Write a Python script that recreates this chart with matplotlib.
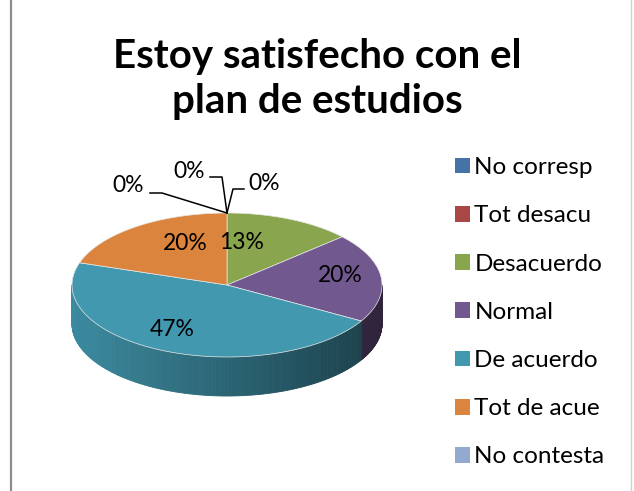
import numpy as np
import matplotlib.pyplot as plt
from matplotlib.patches import Polygon, Patch
from matplotlib.colors import to_rgb

title = "Estoy satisfecho con el\nplan de estudios"
categories = ['No corresp', 'Tot desacu', 'Desacuerdo', 'Normal',
              'De acuerdo', 'Tot de acue', 'No contesta']
counts = [0, 0, 2, 3, 7, 3, 0]
colors = ['#4572A7', '#AA4643', '#89A54E', '#71588F',
          '#4198AF', '#DB843D', '#93A9CF']

plt.rcParams['font.family'] = ['Lato', 'DejaVu Sans']

fig = plt.figure(figsize=(6.34, 4.91), dpi=100)
ax = fig.add_axes([0, 0, 1, 1])
ax.set_xlim(0, 634)
ax.set_ylim(491, 0)
ax.axis('off')

# chart frame lines
ax.plot([10.5, 10.5], [0, 491], color='#8c8c8c', lw=1.6)
ax.plot([630.5, 630.5], [0, 491], color='#d0d0d0', lw=1.0)

ax.text(317, 79, title, ha='center', va='center', fontsize=29,
        fontweight='bold', linespacing=1.25)

# pie geometry (pixels)
cx, cy, rx, ry, depth = 227, 285, 155, 72, 39

def ell(t):
    t = np.radians(t)
    return cx + rx * np.cos(t), cy - ry * np.sin(t)

total = sum(counts)
cum = np.concatenate([[0], np.cumsum(counts)])
starts = 90 - cum[:-1] * 360 / total
ends = 90 - cum[1:] * 360 / total

# side walls (only front half visible)
for c, a0, a1, col in zip(counts, starts, ends, colors):
    if c == 0:
        continue
    base = np.array(to_rgb(col))
    ts = np.linspace(a1, a0, 200)
    for t0, t1 in zip(ts[:-1], ts[1:]):
        tm = (t0 + t1) / 2
        if np.sin(np.radians(tm)) >= 0:
            continue
        f = 0.66 - 0.25 * np.cos(np.radians(tm))
        x0, y0 = ell(t0)
        x1, y1 = ell(t1)
        poly = [(x0, y0), (x1, y1), (x1, y1 + depth), (x0, y0 + depth)]
        ax.add_patch(Polygon(poly, closed=True, facecolor=base * f,
                             edgecolor=base * f, lw=0.6))

# top faces
for c, a0, a1, col in zip(counts, starts, ends, colors):
    if c == 0:
        continue
    ts = np.linspace(a0, a1, 120)
    xs, ys = ell(ts)
    pts = [(cx, cy)] + list(zip(xs, ys))
    ax.add_patch(Polygon(pts, closed=True, facecolor=col,
                         edgecolor='#e8e8e8', lw=0.5))

# percentage labels
pcts = ['%d%%' % round(100 * c / total) for c in counts]
label_nudge = {2: (15, -43), 3: (113, -10), 4: (-55, 44), 5: (-42, -42)}
for i, (dx, dy) in label_nudge.items():
    ax.text(cx + dx, cy + dy, pcts[i], ha='center', va='center', fontsize=16.5)

# zero-value labels with leader lines
ax_x, ax_y = ell(90)
zero_layout = [((244, 189), (233, 189), (264, 184)),
               ((210, 177), (222, 177), (189, 172)),
               ((150, 193), (162, 193), (128, 186))]
zero_idx = [i for i, c in enumerate(counts) if c == 0]
for i, (end, elbow, txt) in zip(zero_idx, zero_layout):
    ax.plot([ax_x, elbow[0], end[0]], [ax_y, elbow[1], end[1]],
            color='black', lw=1.1)
    ax.text(txt[0], txt[1], pcts[i], ha='center', va='center', fontsize=16.5)

handles = [Patch(facecolor=c, edgecolor='none') for c in colors]
fig.legend(handles, categories, loc='upper left',
           bbox_to_anchor=(443 / 634, 1 - 145 / 491), frameon=False,
           fontsize=17.5, handlelength=0.62, handleheight=0.62,
           handletextpad=0.17, labelspacing=1.12, borderpad=0)

fig.savefig('out.png', dpi=100)
